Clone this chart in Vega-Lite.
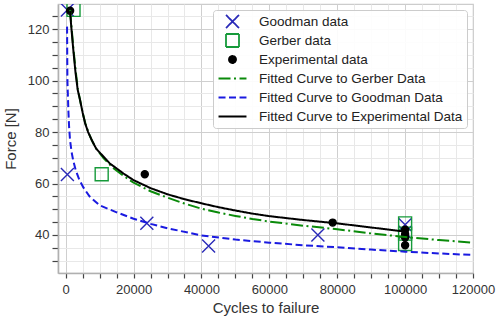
{
  "$schema": "https://vega.github.io/schema/vega-lite/v6.json",
  "width": 415,
  "height": 269,
  "autosize": {"type": "none"},
  "padding": {"left": 58, "top": 4, "right": 25, "bottom": 46},
  "background": "white",
  "config": {
    "font": "Liberation Sans",
    "view": {"stroke": "#cccccc", "strokeWidth": 1.2},
    "axis": {
      "labelFont": "Liberation Sans",
      "titleFont": "Liberation Sans",
      "labelFontSize": 13,
      "titleFontSize": 15,
      "titleFontWeight": "normal",
      "labelColor": "#333333",
      "titleColor": "#333333",
      "domainColor": "#b0b0b0",
      "domainWidth": 1.6,
      "tickColor": "#444444",
      "tickWidth": 1.2
    },
    "legend": {
      "orient": "none",
      "legendX": 155,
      "legendY": 6,
      "title": null,
      "padding": 4,
      "symbolOffset": 8,
      "labelOffset": 19,
      "rowPadding": 4,
      "clipHeight": 15,
      "labelFont": "Liberation Sans",
      "labelFontSize": 13.5,
      "labelColor": "#222222",
      "labelLimit": 300,
      "fillColor": "rgba(255,255,255,0.9)",
      "strokeColor": "#cccccc",
      "cornerRadius": 3,
      "symbolSize": 169,
      "symbolStrokeWidth": 1.8,
      "symbolOpacity": 1
    }
  },
  "data": {
    "values": [
      {"kind": "pt", "series": "Goodman data", "x": 500, "y": 127.5},
      {"kind": "pt", "series": "Goodman data", "x": 500, "y": 63.5},
      {"kind": "pt", "series": "Goodman data", "x": 23900, "y": 44.5},
      {"kind": "pt", "series": "Goodman data", "x": 42100, "y": 35.7},
      {"kind": "pt", "series": "Goodman data", "x": 74300, "y": 40.0},
      {"kind": "pt", "series": "Goodman data", "x": 100000, "y": 44.0},
      {"kind": "pt", "series": "Goodman data", "x": 100000, "y": 41.0},
      {"kind": "pt", "series": "Gerber data", "x": 2300, "y": 127.5},
      {"kind": "pt", "series": "Gerber data", "x": 10600, "y": 63.6},
      {"kind": "pt", "series": "Gerber data", "x": 100000, "y": 44.5},
      {"kind": "pt", "series": "Gerber data", "x": 100000, "y": 40.5},
      {"kind": "pt", "series": "Gerber data", "x": 100000, "y": 36.5},
      {"kind": "pt", "series": "Experimental data", "x": 1300, "y": 127.2},
      {"kind": "pt", "series": "Experimental data", "x": 23300, "y": 63.6},
      {"kind": "pt", "series": "Experimental data", "x": 78650, "y": 44.8},
      {"kind": "pt", "series": "Experimental data", "x": 100000, "y": 42.0},
      {"kind": "pt", "series": "Experimental data", "x": 100000, "y": 40.3},
      {"kind": "pt", "series": "Experimental data", "x": 100000, "y": 39.0},
      {"kind": "pt", "series": "Experimental data", "x": 100000, "y": 36.0},

      {"kind": "ln", "series": "Fitted Curve to Gerber Data", "x": 1300, "y": 127.5},
      {"kind": "ln", "series": "Fitted Curve to Gerber Data", "x": 1700, "y": 121},
      {"kind": "ln", "series": "Fitted Curve to Gerber Data", "x": 2300, "y": 112},
      {"kind": "ln", "series": "Fitted Curve to Gerber Data", "x": 3000, "y": 103},
      {"kind": "ln", "series": "Fitted Curve to Gerber Data", "x": 3600, "y": 96.5},
      {"kind": "ln", "series": "Fitted Curve to Gerber Data", "x": 4300, "y": 92},
      {"kind": "ln", "series": "Fitted Curve to Gerber Data", "x": 5000, "y": 87.5},
      {"kind": "ln", "series": "Fitted Curve to Gerber Data", "x": 5800, "y": 83.3},
      {"kind": "ln", "series": "Fitted Curve to Gerber Data", "x": 6800, "y": 79.5},
      {"kind": "ln", "series": "Fitted Curve to Gerber Data", "x": 7800, "y": 76.5},
      {"kind": "ln", "series": "Fitted Curve to Gerber Data", "x": 9000, "y": 73.5},
      {"kind": "ln", "series": "Fitted Curve to Gerber Data", "x": 11200, "y": 69.8},
      {"kind": "ln", "series": "Fitted Curve to Gerber Data", "x": 14000, "y": 66},
      {"kind": "ln", "series": "Fitted Curve to Gerber Data", "x": 17000, "y": 63},
      {"kind": "ln", "series": "Fitted Curve to Gerber Data", "x": 20000, "y": 60.3},
      {"kind": "ln", "series": "Fitted Curve to Gerber Data", "x": 25000, "y": 57},
      {"kind": "ln", "series": "Fitted Curve to Gerber Data", "x": 30000, "y": 54.5},
      {"kind": "ln", "series": "Fitted Curve to Gerber Data", "x": 35000, "y": 52.2},
      {"kind": "ln", "series": "Fitted Curve to Gerber Data", "x": 40000, "y": 50.2},
      {"kind": "ln", "series": "Fitted Curve to Gerber Data", "x": 45000, "y": 48.7},
      {"kind": "ln", "series": "Fitted Curve to Gerber Data", "x": 50000, "y": 47.4},
      {"kind": "ln", "series": "Fitted Curve to Gerber Data", "x": 55000, "y": 46.2},
      {"kind": "ln", "series": "Fitted Curve to Gerber Data", "x": 60000, "y": 45.2},
      {"kind": "ln", "series": "Fitted Curve to Gerber Data", "x": 70000, "y": 43.6},
      {"kind": "ln", "series": "Fitted Curve to Gerber Data", "x": 80000, "y": 42.2},
      {"kind": "ln", "series": "Fitted Curve to Gerber Data", "x": 90000, "y": 40.6},
      {"kind": "ln", "series": "Fitted Curve to Gerber Data", "x": 100000, "y": 39.2},
      {"kind": "ln", "series": "Fitted Curve to Gerber Data", "x": 110000, "y": 38},
      {"kind": "ln", "series": "Fitted Curve to Gerber Data", "x": 120000, "y": 37},

      {"kind": "ln", "series": "Fitted Curve to Goodman Data", "x": 400, "y": 121},
      {"kind": "ln", "series": "Fitted Curve to Goodman Data", "x": 450, "y": 110},
      {"kind": "ln", "series": "Fitted Curve to Goodman Data", "x": 500, "y": 100},
      {"kind": "ln", "series": "Fitted Curve to Goodman Data", "x": 600, "y": 96},
      {"kind": "ln", "series": "Fitted Curve to Goodman Data", "x": 800, "y": 88},
      {"kind": "ln", "series": "Fitted Curve to Goodman Data", "x": 1000, "y": 82},
      {"kind": "ln", "series": "Fitted Curve to Goodman Data", "x": 1270, "y": 77},
      {"kind": "ln", "series": "Fitted Curve to Goodman Data", "x": 1700, "y": 72.5},
      {"kind": "ln", "series": "Fitted Curve to Goodman Data", "x": 2200, "y": 69},
      {"kind": "ln", "series": "Fitted Curve to Goodman Data", "x": 2950, "y": 65.2},
      {"kind": "ln", "series": "Fitted Curve to Goodman Data", "x": 4000, "y": 61.5},
      {"kind": "ln", "series": "Fitted Curve to Goodman Data", "x": 5200, "y": 58.5},
      {"kind": "ln", "series": "Fitted Curve to Goodman Data", "x": 7000, "y": 55},
      {"kind": "ln", "series": "Fitted Curve to Goodman Data", "x": 10000, "y": 51.5},
      {"kind": "ln", "series": "Fitted Curve to Goodman Data", "x": 15000, "y": 48.8},
      {"kind": "ln", "series": "Fitted Curve to Goodman Data", "x": 20000, "y": 46.3},
      {"kind": "ln", "series": "Fitted Curve to Goodman Data", "x": 25000, "y": 44.3},
      {"kind": "ln", "series": "Fitted Curve to Goodman Data", "x": 30000, "y": 42.6},
      {"kind": "ln", "series": "Fitted Curve to Goodman Data", "x": 40000, "y": 39.8},
      {"kind": "ln", "series": "Fitted Curve to Goodman Data", "x": 50000, "y": 38.2},
      {"kind": "ln", "series": "Fitted Curve to Goodman Data", "x": 60000, "y": 37},
      {"kind": "ln", "series": "Fitted Curve to Goodman Data", "x": 70000, "y": 36},
      {"kind": "ln", "series": "Fitted Curve to Goodman Data", "x": 80000, "y": 35.2},
      {"kind": "ln", "series": "Fitted Curve to Goodman Data", "x": 90000, "y": 34.3},
      {"kind": "ln", "series": "Fitted Curve to Goodman Data", "x": 100000, "y": 33.5},
      {"kind": "ln", "series": "Fitted Curve to Goodman Data", "x": 110000, "y": 32.8},
      {"kind": "ln", "series": "Fitted Curve to Goodman Data", "x": 120000, "y": 32.2},

      {"kind": "ln", "series": "Fitted Curve to Experimental Data", "x": 1270, "y": 127},
      {"kind": "ln", "series": "Fitted Curve to Experimental Data", "x": 1700, "y": 120},
      {"kind": "ln", "series": "Fitted Curve to Experimental Data", "x": 2240, "y": 112},
      {"kind": "ln", "series": "Fitted Curve to Experimental Data", "x": 2900, "y": 103},
      {"kind": "ln", "series": "Fitted Curve to Experimental Data", "x": 3540, "y": 96.4},
      {"kind": "ln", "series": "Fitted Curve to Experimental Data", "x": 4220, "y": 92.5},
      {"kind": "ln", "series": "Fitted Curve to Experimental Data", "x": 5000, "y": 87.5},
      {"kind": "ln", "series": "Fitted Curve to Experimental Data", "x": 5700, "y": 83.5},
      {"kind": "ln", "series": "Fitted Curve to Experimental Data", "x": 6600, "y": 80},
      {"kind": "ln", "series": "Fitted Curve to Experimental Data", "x": 7670, "y": 76.9},
      {"kind": "ln", "series": "Fitted Curve to Experimental Data", "x": 9000, "y": 73.5},
      {"kind": "ln", "series": "Fitted Curve to Experimental Data", "x": 11100, "y": 70.5},
      {"kind": "ln", "series": "Fitted Curve to Experimental Data", "x": 13000, "y": 67.8},
      {"kind": "ln", "series": "Fitted Curve to Experimental Data", "x": 17000, "y": 63.9},
      {"kind": "ln", "series": "Fitted Curve to Experimental Data", "x": 20000, "y": 61.3},
      {"kind": "ln", "series": "Fitted Curve to Experimental Data", "x": 25000, "y": 58.2},
      {"kind": "ln", "series": "Fitted Curve to Experimental Data", "x": 30000, "y": 55.8},
      {"kind": "ln", "series": "Fitted Curve to Experimental Data", "x": 35000, "y": 53.9},
      {"kind": "ln", "series": "Fitted Curve to Experimental Data", "x": 40000, "y": 52.3},
      {"kind": "ln", "series": "Fitted Curve to Experimental Data", "x": 45000, "y": 50.8},
      {"kind": "ln", "series": "Fitted Curve to Experimental Data", "x": 50000, "y": 49.5},
      {"kind": "ln", "series": "Fitted Curve to Experimental Data", "x": 55000, "y": 48.3},
      {"kind": "ln", "series": "Fitted Curve to Experimental Data", "x": 60000, "y": 47.3},
      {"kind": "ln", "series": "Fitted Curve to Experimental Data", "x": 70000, "y": 45.8},
      {"kind": "ln", "series": "Fitted Curve to Experimental Data", "x": 80000, "y": 44.5},
      {"kind": "ln", "series": "Fitted Curve to Experimental Data", "x": 90000, "y": 42.9},
      {"kind": "ln", "series": "Fitted Curve to Experimental Data", "x": 100000, "y": 41.3}
    ]
  },
  "encoding": {
    "x": {
      "field": "x",
      "type": "quantitative",
      "title": "Cycles to failure",
      "scale": {"domain": [-2270, 120000], "nice": false, "zero": false},
      "axis": {
        "values": [0, 5000, 10000, 15000, 20000, 25000, 30000, 35000, 40000, 45000, 50000, 55000, 60000, 65000, 70000, 75000, 80000, 85000, 90000, 95000, 100000, 105000, 110000, 115000, 120000],
        "labelExpr": "datum.value % 20000 === 0 ? format(datum.value, 'd') : ''",
        "labelOverlap": false,
        "labelFlush": false,
        "tickSize": 5,
        "labelPadding": 5,
        "titlePadding": 4,
        "gridColor": {"condition": {"test": "datum.value % 20000 === 0", "value": "#cfcfcf"}, "value": "#e8e8e8"},
        "gridWidth": 1
      }
    },
    "y": {
      "field": "y",
      "type": "quantitative",
      "title": "Force [N]",
      "scale": {"domain": [25.2, 129.8], "nice": false, "zero": false},
      "axis": {
        "values": [30, 35, 40, 45, 50, 55, 60, 65, 70, 75, 80, 85, 90, 95, 100, 105, 110, 115, 120, 125],
        "labelExpr": "datum.value % 20 === 0 ? format(datum.value, 'd') : ''",
        "labelOverlap": false,
        "labelFlush": false,
        "tickSize": 6,
        "labelPadding": 3,
        "titlePadding": 9,
        "gridColor": {"condition": {"test": "datum.value % 20 === 0", "value": "#cfcfcf"}, "value": "#e8e8e8"},
        "gridWidth": 1
      }
    }
  },
  "layer": [
    {
      "transform": [{"filter": "datum.kind === 'pt'"}],
      "mark": {"type": "point", "size": 169, "strokeWidth": 1.4, "opacity": 1, "clip": true},
      "encoding": {
        "stroke": {
          "field": "series", "type": "nominal",
          "scale": {
            "domain": ["Goodman data", "Gerber data", "Experimental data", "Fitted Curve to Gerber Data", "Fitted Curve to Goodman Data", "Fitted Curve to Experimental Data"],
            "range": ["#2a2ab8", "#169a3a", "#000000", "#0a8a0a", "#1a1ae0", "#000000"]
          },
          "legend": {"title": null}
        },
        "fill": {
          "field": "series", "type": "nominal",
          "scale": {
            "domain": ["Goodman data", "Gerber data", "Experimental data", "Fitted Curve to Gerber Data", "Fitted Curve to Goodman Data", "Fitted Curve to Experimental Data"],
            "range": ["transparent", "transparent", "#000000", "transparent", "transparent", "transparent"]
          },
          "legend": {"title": null}
        },
        "shape": {
          "field": "series", "type": "nominal",
          "scale": {
            "domain": ["Goodman data", "Gerber data", "Experimental data", "Fitted Curve to Gerber Data", "Fitted Curve to Goodman Data", "Fitted Curve to Experimental Data"],
            "range": ["M-1,-1L1,1M-1,1L1,-1", "square", "M-0.54,0A0.54,0.54,0,1,1,0.54,0A0.54,0.54,0,1,1,-0.54,0Z", "M-2.15,0L2.15,0", "M-2.15,0L2.15,0", "M-2.15,0L2.15,0"]
          },
          "legend": {"title": null}
        }
      }
    },
    {
      "transform": [{"filter": "datum.kind === 'ln'"}],
      "mark": {"type": "line", "strokeWidth": 2, "clip": true, "opacity": 1},
      "encoding": {
        "stroke": {"field": "series", "type": "nominal", "legend": {"title": null}},
        "strokeDash": {
          "field": "series", "type": "nominal",
          "scale": {
            "domain": ["Goodman data", "Gerber data", "Experimental data", "Fitted Curve to Gerber Data", "Fitted Curve to Goodman Data", "Fitted Curve to Experimental Data"],
            "range": [[1, 0], [1, 0], [1, 0], [12, 3.5, 2, 3.5], [7, 3.5], [1, 0]]
          },
          "legend": {"title": null}
        }
      }
    }
  ]
}
